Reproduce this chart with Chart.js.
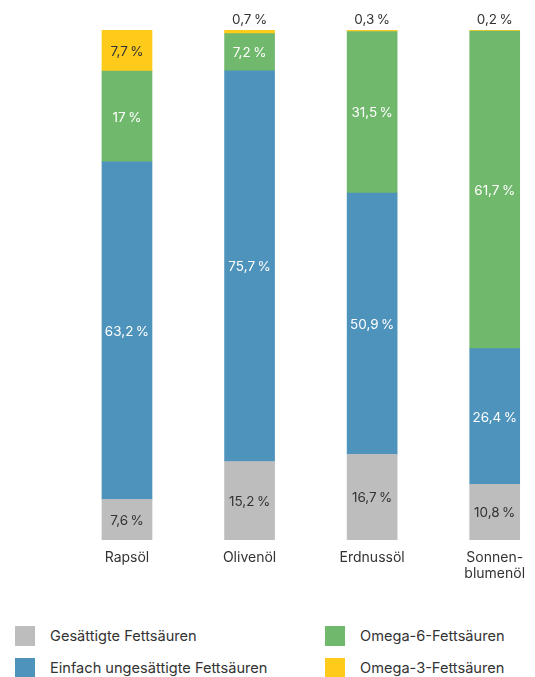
<!DOCTYPE html>
<html>
<head>
<meta charset="utf-8">
<script src="https://cdn.jsdelivr.net/npm/chart.js@4"></script>
<style>
  html, body { margin: 0; padding: 0; background: #fff; overflow: hidden; }
  #wrap { position: relative; width: 535px; height: 677px; }
  canvas { position: absolute; left: 0; top: 0; }
  .leg { position: absolute; font: 14.6px Inter, sans-serif; color: #333; white-space: nowrap; }
  .leg span { position: absolute; left: 0; top: 0; width: 20px; height: 20px; }
  .leg b { position: absolute; left: 35px; top: 1px; font-weight: normal; line-height: 18px; }
</style>
</head>
<body>
<div id="wrap">
  <canvas id="chart" width="565" height="590"></canvas>
</div>
<script>
// values in percent, as printed on the bars
const categories = ['Rapsöl', 'Olivenöl', 'Erdnussöl', ['Sonnen-', 'blumenöl']];
const gesaettigt = [7.6, 15.2, 16.7, 10.8];
const einfach = [63.2, 75.7, 50.9, 26.4];
const omega6 = [17, 7.2, 31.5, 61.7];
const omega3 = [7.7, 0.7, 0.3, 0.2];

const seriesNames = ['Gesättigte Fettsäuren', 'Einfach ungesättigte Fettsäuren', 'Omega-6-Fettsäuren', 'Omega-3-Fettsäuren'];
const seriesColors = ['#bdbdbd', '#4e93bb', '#70b96c', '#fecb1a'];
const labelColors = ['#333', '#fff', '#fff', '#333'];
const series = [gesaettigt, einfach, omega6, omega3];

// every bar is drawn to full height, so the shares get normalised per oil
const totals = categories.map((c, j) => series.reduce((s, arr) => s + arr[j], 0));

const fmt = v => v.toString().replace('.', ',') + '\u2009%';

const barLabels = {
  id: 'barLabels',
  afterDatasetsDraw(chart) {
    const ctx = chart.ctx;
    ctx.save();
    ctx.font = '13.5px Inter, sans-serif';
    ctx.textAlign = 'center';
    ctx.textBaseline = 'middle';
    chart.data.datasets.forEach((ds, i) => {
      chart.getDatasetMeta(i).data.forEach((bar, j) => {
        const v = ds.raw[j];
        if (v < 1) {
          ctx.fillStyle = '#333';
          ctx.fillText(fmt(v), bar.x, bar.y - 10);
        } else {
          ctx.fillStyle = labelColors[i];
          ctx.fillText(fmt(v), bar.x, (bar.y + bar.base) / 2 + 1);
        }
      });
    });
    ctx.restore();
  }
};

new Chart(document.getElementById('chart'), {
  type: 'bar',
  data: {
    labels: categories,
    datasets: series.map((arr, i) => ({
      label: seriesNames[i],
      raw: arr,
      data: arr.map((v, j) => v / totals[j] * 100),
      backgroundColor: seriesColors[i],
      barThickness: 50,
      borderWidth: 0
    }))
  },
  options: {
    responsive: false,
    animation: false,
    devicePixelRatio: 1,
    layout: { padding: { top: 30, left: 65.7, right: 9, bottom: 0 } },
    plugins: { legend: { display: false }, tooltip: { enabled: false } },
    scales: {
      x: {
        stacked: true,
        grid: { display: false, drawTicks: false },
        border: { display: false },
        ticks: { color: '#333', font: { family: 'Inter', size: 14, lineHeight: 1.15 }, padding: 10, maxRotation: 0 },
        afterFit(scale) { scale.height = 50; }
      },
      y: { stacked: true, display: false, min: 0, max: 100 }
    }
  },
  plugins: [barLabels]
});

// legend, two columns
const wrap = document.getElementById('wrap');
const legPos = [[15, 626], [15, 658], [325, 626], [325, 658]];
seriesNames.forEach((name, i) => {
  const d = document.createElement('div');
  d.className = 'leg';
  d.style.left = legPos[i][0] + 'px';
  d.style.top = legPos[i][1] + 'px';
  d.innerHTML = '<span style="background:' + seriesColors[i] + '"></span><b>' + name + '</b>';
  wrap.appendChild(d);
});
</script>
</body>
</html>
